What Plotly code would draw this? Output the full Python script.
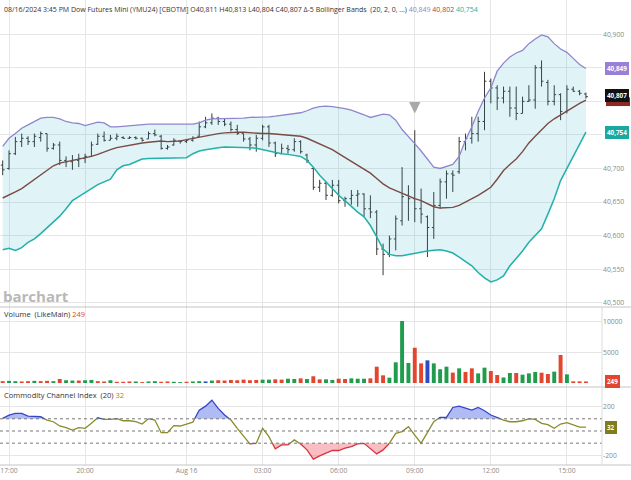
import pandas as pd
import numpy as np
import plotly.graph_objects as go

# ---------------- data ----------------
times = pd.date_range("2024-08-15 16:45", periods=93, freq="15min")

opens = [40705, 40700, 40722, 40740, 40745, 40740, 40746, 40752, 40730, 40735,
         40712, 40710, 40712, 40715, 40718, 40736, 40748, 40742, 40745, 40746,
         40745, 40746, 40745, 40744, 40752, 40748, 40730, 40735, 40741, 40740,
         40742, 40748, 40762, 40768, 40775, 40770, 40766, 40758, 40752, 40744,
         40735, 40745, 40762, 40738, 40722, 40730, 40728, 40740, 40720, 40700,
         40672, 40678, 40660, 40675, 40652, 40655, 40660, 40662, 40640, 40635,
         40580, 40572, 40595, 40622, 40660, 40655, 40640, 40628, 40612, 40645,
         40680, 40692, 40695, 40740, 40745, 40752, 40770, 40830, 40820, 40805,
         40815, 40790, 40782, 40800, 40802, 40850, 40828, 40800, 40810, 40785,
         40818, 40815, 40811]
highs = [40712, 40727, 40747, 40752, 40748, 40752, 40755, 40752, 40738, 40740,
         40718, 40720, 40722, 40722, 40740, 40752, 40755, 40750, 40752, 40748,
         40748, 40748, 40746, 40755, 40758, 40750, 40735, 40745, 40742, 40744,
         40748, 40770, 40777, 40782, 40777, 40775, 40770, 40765, 40752, 40747,
         40750, 40765, 40765, 40740, 40737, 40735, 40745, 40742, 40722, 40702,
         40683, 40680, 40683, 40683, 40658, 40668, 40668, 40663, 40660, 40638,
         40588, 40600, 40630, 40702, 40675, 40757, 40670, 40630, 40665, 40685,
         40697, 40697, 40747, 40752, 40777, 40777, 40844, 40834, 40824, 40822,
         40822, 40822, 40807, 40824, 40854, 40861, 40832, 40824, 40812, 40824,
         40822, 40817, 40813]
lows = [40690, 40698, 40720, 40732, 40735, 40732, 40740, 40725, 40728, 40705,
        40702, 40698, 40702, 40708, 40718, 40735, 40740, 40742, 40742, 40744,
        40744, 40743, 40740, 40744, 40748, 40728, 40728, 40734, 40737, 40738,
        40740, 40747, 40760, 40765, 40765, 40763, 40755, 40750, 40740, 40727,
        40725, 40742, 40732, 40717, 40722, 40722, 40725, 40722, 40708, 40668,
        40665, 40653, 40658, 40648, 40643, 40646, 40643, 40628, 40626, 40571,
        40541, 40568, 40578, 40615, 40622, 40620, 40618, 40568, 40595, 40640,
        40655, 40665, 40692, 40727, 40737, 40740, 40757, 40797, 40787, 40797,
        40777, 40772, 40782, 40799, 40789, 40822, 40794, 40794, 40772, 40782,
        40814, 40809, 40804]
closes = [40698, 40722, 40740, 40745, 40740, 40748, 40752, 40730, 40735, 40712,
          40710, 40712, 40715, 40718, 40735, 40748, 40742, 40745, 40748, 40745,
          40746, 40745, 40742, 40752, 40750, 40730, 40732, 40742, 40740, 40742,
          40745, 40762, 40768, 40775, 40770, 40766, 40758, 40752, 40744, 40735,
          40745, 40762, 40738, 40722, 40730, 40728, 40740, 40725, 40712, 40672,
          40678, 40660, 40675, 40652, 40655, 40660, 40662, 40640, 40635, 40580,
          40572, 40595, 40625, 40658, 40655, 40640, 40632, 40612, 40645, 40680,
          40692, 40690, 40740, 40745, 40752, 40770, 40830, 40820, 40805, 40815,
          40790, 40782, 40800, 40802, 40850, 40830, 40800, 40810, 40785, 40818,
          40815, 40812, 40807]

bb_upper = [40733, 40745, 40752, 40760, 40765, 40770, 40775, 40776, 40776, 40774,
            40770, 40768, 40767, 40764, 40766, 40769, 40768, 40762, 40762, 40763,
            40764, 40765, 40766, 40766, 40766, 40766, 40766, 40766, 40766, 40766,
            40766, 40768, 40772, 40774, 40774, 40774, 40774, 40775, 40775, 40776,
            40776, 40776, 40777, 40778, 40779, 40780, 40781, 40783, 40786, 40790,
            40792, 40793, 40792, 40791, 40789, 40787, 40784, 40780, 40776, 40778,
            40781, 40780, 40772, 40758, 40748, 40737, 40726, 40714, 40702, 40700,
            40703, 40706, 40718, 40742, 40762, 40785, 40805, 40820, 40845, 40857,
            40866, 40872, 40876, 40886, 40893, 40899, 40896, 40886, 40878, 40873,
            40864, 40855, 40849]
bb_middle = [40656, 40660, 40665, 40670, 40677, 40684, 40691, 40698, 40704, 40708,
             40710, 40712, 40713, 40716, 40718, 40721, 40725, 40728, 40731, 40733,
             40735, 40736, 40738, 40739, 40740, 40741, 40740, 40740, 40741, 40743,
             40745, 40747, 40749, 40751, 40752, 40753, 40754, 40754, 40754, 40753,
             40753, 40752, 40752, 40751, 40750, 40750, 40749, 40748, 40745, 40741,
             40737, 40733, 40728, 40722, 40716, 40711, 40705, 40699, 40693, 40685,
             40677, 40671, 40667, 40662, 40659, 40655, 40652, 40648, 40643, 40641,
             40641, 40642, 40645, 40650, 40654, 40660, 40666, 40672, 40684, 40697,
             40706, 40714, 40725, 40738, 40748, 40758, 40767, 40774, 40780, 40786,
             40792, 40797, 40802]
bb_lower = [40579, 40581, 40578, 40582, 40590, 40595, 40603, 40612, 40620, 40629,
            40640, 40652, 40658, 40664, 40670, 40676, 40680, 40684, 40698, 40704,
            40706, 40710, 40714, 40715, 40715, 40715, 40715, 40716, 40716, 40716,
            40722, 40726, 40728, 40730, 40731, 40732, 40732, 40732, 40732, 40731,
            40730, 40728, 40725, 40723, 40722, 40721, 40720, 40718, 40712, 40702,
            40690, 40680, 40670, 40660, 40652, 40643, 40635, 40628, 40615, 40598,
            40580, 40572, 40570, 40570, 40572, 40574, 40576, 40577, 40578, 40579,
            40577, 40574, 40568, 40562, 40555, 40545, 40537, 40531, 40534, 40540,
            40555, 40566, 40577, 40590, 40600, 40610, 40632, 40655, 40682, 40700,
            40716, 40735, 40754]

volume = [300, 350, 300, 250, 300, 350, 300, 350, 300, 650,
          450, 400, 400, 450, 500, 300, 250, 450, 200, 200,
          250, 250, 150, 250, 300, 200, 250, 200, 150, 200,
          250, 300, 250, 400, 450, 400, 500, 450, 550, 450,
          500, 550, 550, 600, 550, 700, 650, 750, 650, 1100,
          600, 600, 490, 700, 650, 760, 700, 700, 760, 2660,
          1250, 870, 3370, 10100, 3260, 5750, 3200, 3690, 3200, 2240,
          2660, 1690, 2390, 1790, 2390, 1570, 2500, 1950, 1300, 900,
          1630, 1630, 1360, 1570, 1790, 1680, 1470, 1850, 4560, 1410,
          270, 270, 249]
vol_dir = ["d", "u", "u", "d", "d", "u", "d", "d", "u", "d",
           "u", "u", "d", "u", "u", "d", "d", "u", "d", "d",
           "d", "u", "d", "u", "u", "d", "d", "u", "u", "d",
           "u", "u", "n", "u", "d", "d", "d", "d", "d", "d",
           "d", "u", "u", "d", "d", "u", "u", "d", "u", "d",
           "d", "u", "u", "d", "d", "u", "u", "u", "d", "d",
           "d", "u", "u", "u", "u", "d", "d", "n", "u", "u",
           "u", "d", "u", "d", "d", "u", "u", "d", "d", "u",
           "u", "d", "u", "u", "u", "d", "d", "u", "d", "u",
           "d", "d", "d"]

cci = [103, 130, 144, 144, 122, 122, 117, 90, 76, 41,
       27, 8, 27, 22, 63, 109, 95, 95, 103, 84,
       84, 76, 57, 101, 90, -14, -14, 44, 41, 57,
       73, 171, 204, 253, 185, 131, 90, 22, -46, -106,
       -101, 22, -46, -147, -114, -114, -73, -106, -155, -231,
       -204, -182, -160, -160, -140, -128, -106, -101, -141, -188,
       -155, -101, -19, -5, 35, -33, -101, -11, 76, 112,
       112, 193, 204, 190, 171, 193, 166, 131, 112, 90,
       76, 76, 84, 101, 95, 63, 52, 22, 57, 68,
       49, 32, 32]

tick_times = ["2024-08-15 17:00", "2024-08-15 20:00", "2024-08-16 00:00", "2024-08-16 03:00",
              "2024-08-16 06:00", "2024-08-16 09:00", "2024-08-16 12:00", "2024-08-16 15:00"]
tick_text = ["17:00", "20:00", "Aug 16", "03:00", "06:00", "09:00", "12:00", "15:00"]

price_ticks = [40500, 40550, 40600, 40650, 40700, 40750, 40800, 40850, 40900]
price_tick_text = ["40,500", "40,550", "40,600", "40,650", "40,700", "", "", "", "40,900"]

# ---------------- style ----------------
FONT = "Open Sans"
GRID = "#e6e6e6"
LBL = "#8a8a8a"
C_UP = "#1f9d4c"
C_DN = "#e2462f"
C_NC = "#2c4cc4"
C_UPPER = "#8f86cc"
C_MID = "#7a4b44"
C_LOW = "#22b0aa"
C_CCI = "#8b8b2a"

fig = go.Figure()

# Bollinger fill + lines
fig.add_trace(go.Scatter(x=times, y=bb_upper, mode="lines", line=dict(color=C_UPPER, width=1.3),
                         xaxis="x3", yaxis="y", hoverinfo="skip"))
fig.add_trace(go.Scatter(x=times, y=bb_lower, mode="lines", line=dict(color=C_LOW, width=1.5),
                         fill="tonexty", fillcolor="rgba(0,160,180,0.12)",
                         xaxis="x3", yaxis="y", hoverinfo="skip"))
fig.add_trace(go.Scatter(x=times, y=bb_middle, mode="lines", line=dict(color=C_MID, width=1.4),
                         xaxis="x3", yaxis="y", hoverinfo="skip"))
fig.add_trace(go.Ohlc(x=times, open=opens, high=highs, low=lows, close=closes,
                      increasing=dict(line=dict(color="#3a3a3a", width=1)),
                      decreasing=dict(line=dict(color="#3a3a3a", width=1)),
                      tickwidth=0.3, xaxis="x3", yaxis="y", hoverinfo="skip"))

# Volume
col_map = {"u": C_UP, "d": C_DN, "n": C_NC}
fig.add_trace(go.Bar(x=times, y=volume, marker=dict(color=[col_map[d] for d in vol_dir], line=dict(width=0)),
                     width=15 * 60 * 1000 * 0.62, xaxis="x2", yaxis="y2", hoverinfo="skip"))

# CCI with segment colouring
tn = np.array([t.value for t in times], dtype=float)
cv = np.array(cci, dtype=float)
xs, ys = [tn[0]], [cv[0]]
for i in range(1, len(cv)):
    a, b = cv[i - 1], cv[i]
    cr = []
    for L in (100.0, -100.0):
        if (a - L) * (b - L) < 0:
            f = (L - a) / (b - a)
            cr.append((f, L))
    for f, L in sorted(cr):
        xs.append(tn[i - 1] + f * (tn[i] - tn[i - 1]))
        ys.append(L)
    xs.append(tn[i])
    ys.append(b)
xs = pd.to_datetime(np.array(xs).astype("int64"))
ys = np.array(ys)

fig.add_trace(go.Scatter(x=xs, y=[100] * len(xs), mode="lines", line=dict(width=0),
                         xaxis="x", yaxis="y3", hoverinfo="skip"))
fig.add_trace(go.Scatter(x=xs, y=np.maximum(ys, 100), mode="lines", line=dict(width=0),
                         fill="tonexty", fillcolor="rgba(80,105,235,0.45)",
                         xaxis="x", yaxis="y3", hoverinfo="skip"))
fig.add_trace(go.Scatter(x=xs, y=[-100] * len(xs), mode="lines", line=dict(width=0),
                         xaxis="x", yaxis="y3", hoverinfo="skip"))
fig.add_trace(go.Scatter(x=xs, y=np.minimum(ys, -100), mode="lines", line=dict(width=0),
                         fill="tonexty", fillcolor="rgba(240,110,125,0.45)",
                         xaxis="x", yaxis="y3", hoverinfo="skip"))
mid = [v if -100 <= v <= 100 else None for v in ys]
hi = [v if v >= 100 else None for v in ys]
lo = [v if v <= -100 else None for v in ys]
fig.add_trace(go.Scatter(x=xs, y=mid, mode="lines", line=dict(color=C_CCI, width=1.3),
                         xaxis="x", yaxis="y3", hoverinfo="skip", connectgaps=False))
fig.add_trace(go.Scatter(x=xs, y=hi, mode="lines", line=dict(color="#3347c9", width=1.3),
                         xaxis="x", yaxis="y3", hoverinfo="skip", connectgaps=False))
fig.add_trace(go.Scatter(x=xs, y=lo, mode="lines", line=dict(color="#d8343f", width=1.3),
                         xaxis="x", yaxis="y3", hoverinfo="skip", connectgaps=False))

# ---------------- layout ----------------
H = 465.0
d_price = [1 - 307 / H, 1]
d_vol = [1 - 387 / H, 1 - 307 / H]
d_cci = [0, 1 - 387 / H]

x_range = [pd.Timestamp("2024-08-15 16:38:40"), pd.Timestamp("2024-08-16 16:23:00")]
xcommon = dict(range=x_range, type="date", showgrid=True, gridcolor=GRID, gridwidth=1,
               tickvals=tick_times, ticktext=tick_text, zeroline=False, showline=False,
               fixedrange=True)
ycommon = dict(side="right", showgrid=True, gridcolor=GRID, zeroline=False, showline=False,
               ticks="", tickfont=dict(size=6.8, color=LBL, family=FONT), automargin=False,
               fixedrange=True)

fig.update_layout(
    width=631, height=480,
    margin=dict(l=0, r=29, t=0, b=15),
    paper_bgcolor="white", plot_bgcolor="white",
    showlegend=False,
    font=dict(family=FONT, size=7, color="#333"),
    xaxis=dict(**xcommon, anchor="y3", domain=[0, 1], showticklabels=True, ticks="",
               tickfont=dict(size=6.8, color=LBL, family=FONT), rangeslider=dict(visible=False)),
    xaxis2=dict(**xcommon, anchor="y2", domain=[0, 1], matches="x", showticklabels=False,
                rangeslider=dict(visible=False)),
    xaxis3=dict(**xcommon, anchor="y", domain=[0, 1], matches="x", showticklabels=False,
                rangeslider=dict(visible=False)),
    yaxis=dict(**ycommon, domain=d_price, anchor="x3", range=[40493.6, 40951],
               tickvals=price_ticks, ticktext=price_tick_text),
    yaxis2=dict(**ycommon, domain=d_vol, anchor="x2", range=[-650, 12380],
                tickvals=[5000, 10000], ticktext=["5000", "10000"]),
    yaxis3=dict(**ycommon, domain=d_cci, anchor="x", range=[-279, 361],
                tickvals=[-200, 200], ticktext=["-200", "200"]),
)

shapes = []
for lvl in (100, 0, -100):
    shapes.append(dict(type="line", xref="x domain", yref="y3", x0=0, x1=1, y0=lvl, y1=lvl,
                       line=dict(color="#777", width=1, dash="dot")))
for yy in (d_price[0], d_vol[0], 0):
    shapes.append(dict(type="line", xref="paper", yref="paper", x0=0, x1=631 / 602, y0=yy, y1=yy,
                       line=dict(color="#c4c4c4", width=1)))
shapes.append(dict(type="line", xref="paper", yref="paper", x0=1, x1=1, y0=0, y1=d_vol[1],
                   line=dict(color="#dcdcdc", width=1)))
# dark-red middle-band badge peeking out beneath the black last-price badge
shapes.append(dict(type="rect", xref="paper", yref="y", x0=606 / 602, x1=630 / 602,
                   y0=bb_middle[-1] - 9, y1=bb_middle[-1] + 4, fillcolor="#8b2a22",
                   line=dict(width=0), layer="above"))
fig.update_layout(shapes=shapes)

ann = []
ann.append(dict(xref="paper", yref="paper", x=0.004, y=1 - 9 / H, xanchor="left", yanchor="middle",
                showarrow=False, font=dict(size=7, color="#333", family=FONT),
                text="08/16/2024 3:45 PM Dow Futures Mini (YMU24) [CBOTM] O40,811 H40,813 L40,804 "
                     "C40,807 Δ-5 Bollinger Bands  (20, 2, 0, ...) "
                     f"<span style='color:{C_UPPER}'>40,849</span> "
                     f"<span style='color:#b0443c'>40,802</span> "
                     f"<span style='color:{C_LOW}'>40,754</span>"))
ann.append(dict(xref="paper", yref="paper", x=0.004, y=1 - 314 / H, xanchor="left", yanchor="middle",
                showarrow=False, font=dict(size=7.5, color="#333", family=FONT),
                text=f"Volume  (LikeMain) <span style='color:{C_DN}'>249</span>"))
ann.append(dict(xref="paper", yref="paper", x=0.004, y=1 - 395 / H, xanchor="left", yanchor="middle",
                showarrow=False, font=dict(size=7.5, color="#333", family=FONT),
                text=f"Commodity Channel Index  (20) <span style='color:{C_CCI}'>32</span>"))
ann.append(dict(xref="paper", yref="paper", x=0.002, y=1 - 296 / H, xanchor="left", yanchor="middle",
                showarrow=False, font=dict(size=15, color="#b8b8b8", family=FONT),
                text="<b>barchart</b>"))


def badge(yref, val, txt, bg, border=None):
    return dict(xref="paper", yref=yref, x=1, y=val, xanchor="left", yanchor="middle", xshift=3,
                showarrow=False, text=f"<b>{txt}</b>", bgcolor=bg, bordercolor=border or bg,
                borderwidth=1, borderpad=1, font=dict(size=6.3, color="white", family=FONT))


ann.append(badge("y", bb_upper[-1], "40,849", "#9a7fd6"))
ann.append(badge("y", closes[-1] + 1, "40,807", "#111111"))
ann.append(badge("y", bb_lower[-1], "40,754", "#1aa8a2"))
ann.append(badge("y2", volume[-1], "249", C_DN))
ann.append(badge("y3", cci[-1], "32", "#7e7e1c"))

# news arrow over the 09:00 bar
ann.append(dict(xref="x3", yref="y", x=times[65], y=40782, ax=0, ay=-12, showarrow=True,
                arrowhead=2, arrowsize=0.65, arrowwidth=3.5, arrowcolor="#a9a9a9", text=""))
fig.update_layout(annotations=ann)

fig.write_html("out.html", config={"displayModeBar": False, "staticPlot": True},
               post_script="document.body.style.margin='0';")
